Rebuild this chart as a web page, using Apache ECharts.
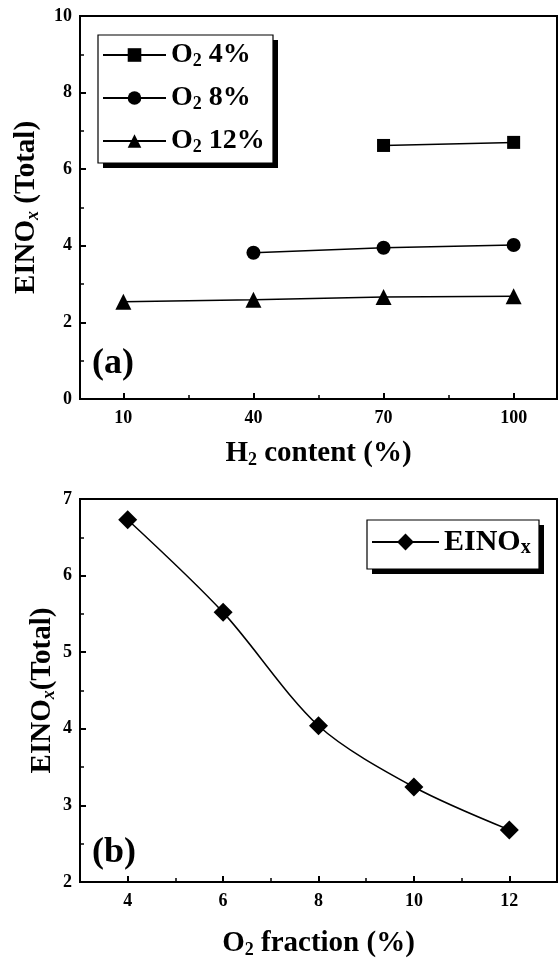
<!DOCTYPE html>
<html><head><meta charset="utf-8">
<script src="https://cdn.jsdelivr.net/npm/echarts@6/dist/echarts.min.js"></script>
<style>html,body{margin:0;padding:0;background:#fff}#c{width:560px;height:958px}</style>
</head><body><div id="c"></div>
<script>
// ---- data ----
const h2Content = [10, 40, 70, 100];
const o2_4 = [null, null, 6.62, 6.70];
const o2_8 = [null, 3.82, 3.95, 4.02];
const o2_12 = [2.54, 2.59, 2.66, 2.68];
const topXTicks = [10, 40, 70, 100];
const topXMinor = [25, 55, 85];
const o2Fraction = [4, 6, 8, 10, 12];
const einox = [6.73, 5.52, 4.04, 3.24, 2.68];
const botXTicks = [4, 6, 8, 10, 12];
const botXMinor = [5, 7, 9, 11];
const topNames = ['O2 4%', 'O2 8%', 'O2 12%'];
const topLegendText = ['{b|O}{s|2}{b| 4%}', '{b|O}{s|2}{b| 8%}', '{b|O}{s|2}{b| 12%}'];
const botNames = ['EINOx'];

const F = 'Liberation Serif';
function pairs(xs, ys) { const r = []; xs.forEach((x, i) => { if (ys[i] != null) r.push([x, ys[i]]); }); return r; }
function rich(big, small, pad) {
  return {
    b: { fontSize: big, fontWeight: 'bold', fontFamily: F, color: '#000' },
    s: { fontSize: small, fontWeight: 'bold', fontFamily: F, color: '#000', padding: [pad, 0, 0, 0] },
    i: { fontSize: small, fontWeight: 'bold', fontStyle: 'italic', fontFamily: F, color: '#000', padding: [pad, 0, 0, 0] }
  };
}
const lbl = { fontSize: 18, fontWeight: 'bold', fontFamily: F, color: '#000' };
const axLine = { show: true, lineStyle: { color: '#000', width: 2 } };

function yAxis(g, min, max, name, gap) {
  return {
    gridIndex: g, type: 'value', min: min, max: max, interval: g === 0 ? 2 : 1,
    axisLine: axLine,
    axisTick: { inside: true, length: 6, lineStyle: { color: '#000', width: 2 } },
    minorTick: { show: true, splitNumber: 2, length: 4, lineStyle: { color: '#000', width: 1.5 } },
    splitLine: { show: false },
    axisLabel: Object.assign({ margin: 8 }, lbl),
    name: name, nameLocation: 'middle', nameGap: gap, nameMoveOverlap: false,
    nameTextStyle: { fontSize: 29, fontWeight: 'bold', fontFamily: F, color: '#000', rich: rich(29, 18, 12) }
  };
}
function xAxis(g, min, max, ticks, name, gap) {
  return {
    gridIndex: g, type: 'value', min: min, max: max, position: 'bottom',
    axisLine: axLine,
    axisTick: { inside: true, length: 6, customValues: ticks, lineStyle: { color: '#000', width: 2 } },
    axisLabel: Object.assign({ margin: 10, customValues: ticks }, lbl),
    splitLine: { show: false },
    name: name, nameLocation: 'middle', nameGap: gap, nameMoveOverlap: false,
    nameTextStyle: { fontSize: 29, fontWeight: 'bold', fontFamily: F, color: '#000', rich: rich(29, 18, 12) }
  };
}
function xMinor(g, min, max, ticks) {
  return {
    gridIndex: g, type: 'value', min: min, max: max, position: 'bottom',
    axisLine: { show: false },
    axisTick: { inside: true, length: 4, customValues: ticks, lineStyle: { color: '#000', width: 1.5 } },
    axisLabel: { show: false },
    splitLine: { show: false }
  };
}
function legendBox(x, y, w, h) {
  return [
    { type: 'rect', z: 3, silent: true, shape: { x: x + 5, y: y + 5, width: w, height: h }, style: { fill: '#000' } },
    { type: 'rect', z: 3, silent: true, shape: { x: x, y: y, width: w, height: h }, style: { fill: '#fff', stroke: '#000', lineWidth: 1.2 } }
  ];
}
const chart = echarts.init(document.getElementById('c'));
chart.setOption({
  animation: false,
  backgroundColor: '#fff',
  title: [
    { text: '(a)', left: 92, top: 346, padding: 0, textStyle: { fontSize: 36, fontWeight: 'bold', fontFamily: F, color: '#000' } },
    { text: '(b)', left: 92, top: 835, padding: 0, textStyle: { fontSize: 36, fontWeight: 'bold', fontFamily: F, color: '#000' } }
  ],
  graphic: legendBox(98, 35, 175, 128).concat(legendBox(367, 520, 172, 49)),
  grid: [
    { left: 80, top: 16, width: 477, height: 383, show: true, borderColor: '#000', borderWidth: 2, outerBoundsMode: 'none', containLabel: false },
    { left: 80, top: 499, width: 477, height: 383, show: true, borderColor: '#000', borderWidth: 2, outerBoundsMode: 'none', containLabel: false }
  ],
  xAxis: [
    xAxis(0, 0, 110, topXTicks, '{b|H}{s|2}{b| content (%)}', 40),
    xMinor(0, 0, 110, topXMinor),
    xAxis(1, 3, 13, botXTicks, '{b|O}{s|2}{b| fraction (%)}', 47),
    xMinor(1, 3, 13, botXMinor)
  ],
  yAxis: [
    yAxis(0, 0, 10, '{b|EINO}{i|x}{b| (Total)}', 38),
    yAxis(1, 2, 7, '{b|EINO}{i|x}{b|(Total)}', 22)
  ],
  legend: [
    {
      orient: 'vertical', selectedMode: false, z: 5,
      left: 98, top: 35, data: topNames, itemWidth: 63, itemHeight: 17, itemGap: 14,
      padding: [6, 8, 4, 4],
      formatter: n => topLegendText[topNames.indexOf(n)],
      textStyle: { fontSize: 28, fontWeight: 'bold', fontFamily: F, color: '#000', rich: rich(28, 18, 12) }
    },
    {
      orient: 'vertical', selectedMode: false, z: 5,
      left: 367, top: 520, data: botNames, itemWidth: 67, itemHeight: 21,
      padding: [7, 4, 7, 4],
      formatter: () => '{b|EINO}{s|x}',
      textStyle: { fontSize: 30, fontWeight: 'bold', fontFamily: F, color: '#000', rich: rich(30, 20, 12) }
    }
  ],
  series: [
    { name: topNames[0], type: 'line', xAxisIndex: 0, yAxisIndex: 0, data: pairs(h2Content, o2_4), symbol: 'rect', symbolSize: 13, itemStyle: { color: '#000' }, lineStyle: { color: '#000', width: 1.5 } },
    { name: topNames[1], type: 'line', xAxisIndex: 0, yAxisIndex: 0, data: pairs(h2Content, o2_8), symbol: 'circle', symbolSize: 14, itemStyle: { color: '#000' }, lineStyle: { color: '#000', width: 1.5 } },
    { name: topNames[2], type: 'line', xAxisIndex: 0, yAxisIndex: 0, data: pairs(h2Content, o2_12), symbol: 'triangle', symbolSize: 16, itemStyle: { color: '#000' }, lineStyle: { color: '#000', width: 1.5 } },
    { name: botNames[0], type: 'line', xAxisIndex: 2, yAxisIndex: 1, data: pairs(o2Fraction, einox), symbol: 'diamond', symbolSize: 19, smooth: 0.3, itemStyle: { color: '#000' }, lineStyle: { color: '#000', width: 1.5 } }
  ]
});
</script></body></html>
